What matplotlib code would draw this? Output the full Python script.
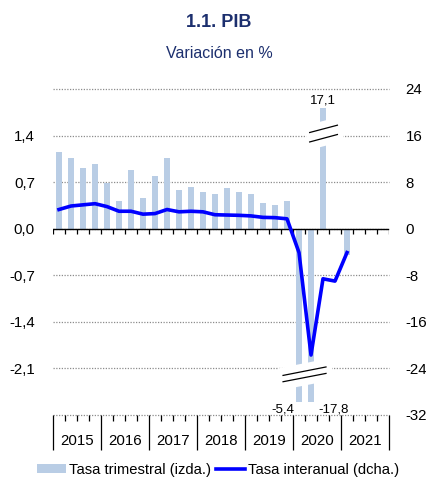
import matplotlib.pyplot as plt
import numpy as np
from matplotlib.patches import Patch, Polygon
from matplotlib.lines import Line2D

plt.rcParams['font.family'] = ['Liberation Sans', 'DejaVu Sans']

# Data: 2015Q1 .. 2021Q1
years = ['2015', '2016', '2017', '2018', '2019', '2020', '2021']
tasa_trimestral = [1.15, 1.07, 0.91, 0.97, 0.68, 0.42, 0.89, 0.46,
                   0.79, 1.07, 0.58, 0.63, 0.55, 0.52, 0.61, 0.55,
                   0.52, 0.38, 0.35, 0.41, -5.4, -17.8, 17.1, 0.0, -0.4]
tasa_interanual = [3.3, 3.9, 4.1, 4.3, 3.8, 3.0, 3.0, 2.5,
                   2.6, 3.3, 2.9, 3.0, 2.9, 2.4, 2.35, 2.3,
                   2.2, 1.95, 1.9, 1.7, -4.1, -21.7, -8.6, -9.0, -4.1]
left_ticks = [-2.1, -1.4, -0.7, 0.0, 0.7, 1.4]
right_ticks = [-32, -24, -16, -8, 0, 8, 16, 24]

navy = '#1C2F6E'
bar_color = '#B9CDE5'
line_color = '#0000FF'

fig = plt.figure(figsize=(4.26, 4.8), dpi=100)
ax = fig.add_axes([53/426, 1 - 415/480, 336/426, 326/480])
ax2 = ax.twinx()

n_slots = 4 * len(years)
x = np.arange(len(tasa_trimestral))
ax.set_xlim(-0.5, n_slots - 0.5)
ax.set_ylim(-2.8, 2.1)
ax2.set_ylim(-32, 24)

# dotted grid in axes coords (matched to right ticks)
grid_style = dict(color='#8C8C8C', lw=0.9, ls=(0, (1, 1.2)), clip_on=False)
for v in right_ticks:
    frac = (v + 32) / 56
    ax.plot([0, 1], [frac, frac], transform=ax.transAxes, zorder=0, **grid_style)

# bars, clipped at the axis breaks
shown = np.clip(tasa_trimestral, -2.61, 1.81)
ax.bar(x, shown, width=0.5, color=bar_color, zorder=2)

# zero line with quarter ticks
ax.axhline(0, color='black', lw=1.0, zorder=4)
ax.vlines(np.arange(-0.5, n_slots, 1), -0.075, 0, color='black', lw=0.9, zorder=4)

# axis breaks
def axis_break(x0, x1, up0, up1, lo0, lo1, xl, xr):
    s = (up1 - up0) / (x1 - x0)
    pad = 0.12
    poly = [(xl, up0 + s * (xl - x0) + pad), (xr, up0 + s * (xr - x0) + pad),
            (xr, lo0 + s * (xr - x0) - pad), (xl, lo0 + s * (xl - x0) - pad)]
    ax.add_patch(Polygon(poly, closed=True, facecolor='white', edgecolor='none', zorder=5))
    ax.plot([x0, x1], [up0, up1], color='black', lw=0.9, zorder=6)
    ax.plot([x0, x1], [lo0, lo1], color='black', lw=0.9, zorder=6)

axis_break(18.67, 22.25, -2.205, -2.078, -2.30, -2.175, 18.25, 22.75)
axis_break(20.89, 23.2, 1.446, 1.556, 1.304, 1.416, 20.6, 23.7)

# labels of clipped bars
ax.text(22, 1.92, '17,1', ha='center', va='center', fontsize=9.5)
ax.text(19.6, -2.71, '-5,4', ha='right', va='center', fontsize=9.5)
ax.text(21.6, -2.71, '-17,8', ha='left', va='center', fontsize=9.5)

# line on right axis
ax2.plot(x, tasa_interanual, color=line_color, lw=2.6, zorder=3)

# y ticks
ax.set_yticks(left_ticks)
ax.set_yticklabels([f'{v:.1f}'.replace('.', ',') for v in left_ticks])
ax.tick_params(axis='y', length=0, pad=13, labelsize=10.8)
ax2.set_yticks(right_ticks)
ax2.set_yticklabels([str(v) for v in right_ticks])
ax2.tick_params(axis='y', length=0, pad=12, labelsize=10.8)

# x ticks: year separators and quarter marks
ax.set_xticks(np.arange(-0.5, n_slots, 4))
ax.set_xticklabels([])
ax.set_xticks(np.arange(-0.5, n_slots, 1), minor=True)
ax.tick_params(axis='x', which='major', length=25, width=0.9, direction='out')
ax.tick_params(axis='x', which='minor', length=4.3, width=0.9, direction='out')

for i, yr in enumerate(years):
    ax.text(4 * i + 1.5, -0.079, yr, transform=ax.get_xaxis_transform(),
            ha='center', va='center', fontsize=10.8)

for a in (ax, ax2):
    for sp in a.spines.values():
        sp.set_visible(False)

fig.text(0.513, 1 - 26.7/480, '1.1. PIB', ha='center', va='baseline',
         fontsize=13, fontweight='bold', color=navy)
fig.text(0.514, 1 - 58.3/480, 'Variación en %', ha='center', va='baseline',
         fontsize=11.5, color=navy)

handles = [Patch(facecolor=bar_color, edgecolor='none'),
           Line2D([0], [0], color=line_color, lw=2.6)]
fig.legend(handles, ['Tasa trimestral (izda.)', 'Tasa interanual (dcha.)'],
           loc='center', bbox_to_anchor=(0.512, 0.021), ncol=2, frameon=False,
           fontsize=10.6, handlelength=2.0, handleheight=0.5,
           handletextpad=0.2, columnspacing=0.3, borderaxespad=0)

fig.savefig('out.png', dpi=100)
